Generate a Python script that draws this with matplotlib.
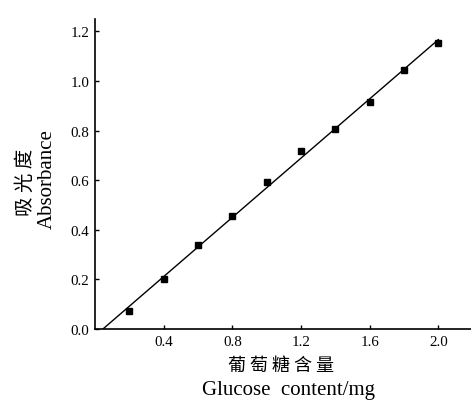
import numpy as np
import matplotlib
matplotlib.use("Agg")
import matplotlib.pyplot as plt

# glucose standard curve
glucose_mg = [0.2, 0.4, 0.6, 0.8, 1.0, 1.2, 1.4, 1.6, 1.8, 2.0]
absorbance = [0.071, 0.200, 0.339, 0.457, 0.591, 0.716, 0.806, 0.917, 1.043, 1.154]
x_ticks = [0.4, 0.8, 1.2, 1.6, 2.0]
y_ticks = [0.0, 0.2, 0.4, 0.6, 0.8, 1.0, 1.2]

serif = ["Liberation Serif", "DejaVu Serif"]
cjk = ["Noto Sans CJK SC", "DejaVu Sans"]
plt.rcParams["font.family"] = serif

fig = plt.figure(figsize=(4.71, 4.02), dpi=100)
ax = fig.add_axes([95 / 471, 72 / 402, 376 / 471, 310 / 402])

ax.plot(glucose_mg, absorbance, "s", color="black", markersize=4.3)

# linear fit, drawn from y = 0 to the last point
k, b = np.polyfit(glucose_mg, absorbance, 1)
xf = np.array([-b / k, glucose_mg[-1]])
ax.plot(xf, k * xf + b, color="black", linewidth=1.0)

ax.set_xlim(0, 2.19)
ax.set_ylim(0, 1.25)
ax.set_xticks(x_ticks)
ax.set_xticklabels([f"{v:.1f}" for v in x_ticks])
ax.set_yticks(y_ticks)
ax.set_yticklabels([f"{v:.1f}" for v in y_ticks])
ax.tick_params(direction="in", length=3, width=1, labelsize=10.8, pad=4)
for s in ["top", "right"]:
    ax.spines[s].set_visible(False)
for s in ["left", "bottom"]:
    ax.spines[s].set_linewidth(1.2)

fig.text(281 / 471, 1 - 366 / 402, "葡 萄 糖 含 量", ha="center", va="center",
         fontsize=13, family=cjk)
fig.text(288 / 471, 1 - 391 / 402, "Glucose  content/mg", ha="center", va="center",
         fontsize=15, family=serif)
fig.text(25 / 471, 1 - 182 / 402, "吸 光 度", ha="center", va="center",
         rotation=90, fontsize=14, family=cjk)
fig.text(47 / 471, 1 - 179 / 402, "Absorbance", ha="center", va="center",
         rotation=90, fontsize=15, family=serif)

fig.savefig("out.png", dpi=100)
